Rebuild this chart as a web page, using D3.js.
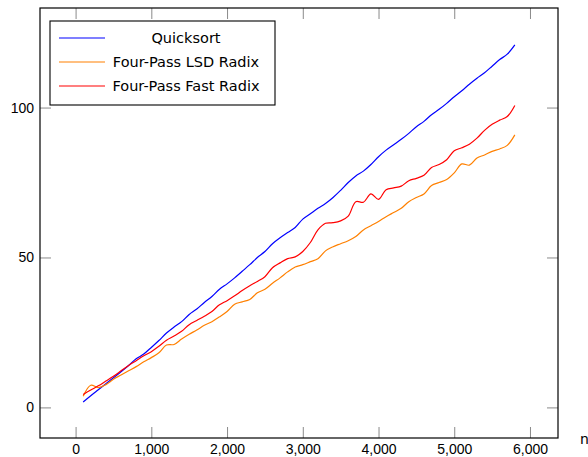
<!DOCTYPE html>
<html>
<head>
<meta charset="utf-8">
<script src="https://cdn.jsdelivr.net/npm/d3@7"></script>
<style>
  html, body { margin: 0; padding: 0; background: #fff; }
  svg { display: block; }
  text { font-family: "Liberation Sans", "DejaVu Sans", sans-serif; fill: #000; }
  .legend-label, .axis-label { font-family: "DejaVu Sans", sans-serif; }
</style>
</head>
<body>
<svg id="chart" width="588" height="457"></svg>
<script>
// Input sizes n
const sizes = d3.range(100, 5801, 100);

// Running times per input size
const quicksort = [
  1.8, 3.9, 5.9, 7.9, 9.9, 11.9, 14.0, 16.2, 17.8, 20.0,
  22.3, 24.8, 26.8, 28.6, 31.0, 32.8, 35.0, 37.0, 39.4, 41.2,
  43.2, 45.4, 47.6, 50.0, 52.0, 54.6, 56.6, 58.3, 60.0, 62.8,
  64.6, 66.4, 68.0, 70.0, 72.4, 75.0, 77.2, 78.8, 81.0, 83.6,
  85.8, 87.6, 89.4, 91.4, 93.6, 95.4, 97.6, 99.4, 101.4, 103.6,
  105.6, 107.8, 109.8, 111.6, 113.8, 116.0, 117.8, 120.9
];
const lsdRadix = [
  3.7, 7.4, 6.6, 7.6, 9.4, 10.8, 12.2, 13.6, 15.2, 16.6,
  18.2, 20.8, 21.0, 22.8, 24.4, 25.8, 27.4, 28.6, 30.2, 32.0,
  34.4, 35.2, 36.0, 38.2, 39.4, 41.4, 43.2, 45.2, 46.8, 47.6,
  48.6, 49.6, 52.2, 53.6, 54.6, 55.6, 57.0, 59.2, 60.6, 62.0,
  63.6, 65.0, 66.4, 68.6, 70.0, 71.2, 74.0, 75.0, 76.0, 78.2,
  81.2, 80.8, 83.2, 84.2, 85.4, 86.2, 87.4, 90.9
];
const fastRadix = [
  4.3, 5.8, 7.2, 8.8, 10.4, 12.2, 14.0, 15.6, 17.2, 18.6,
  20.4, 22.4, 23.8, 25.4, 27.6, 29.0, 30.4, 32.0, 34.2, 35.6,
  37.2, 39.0, 40.6, 42.0, 43.6, 46.6, 48.2, 49.6, 50.2, 52.0,
  55.0, 59.2, 61.4, 61.6, 62.2, 63.8, 68.6, 68.4, 71.2, 69.4,
  72.6, 73.2, 73.8, 75.6, 76.4, 77.4, 80.0, 81.0, 82.6, 85.6,
  86.6, 87.8, 89.8, 92.4, 94.4, 95.8, 97.0, 100.7
];

const seriesNames = ["Quicksort", "Four-Pass LSD Radix", "Four-Pass Fast Radix"];
const seriesColors = ["#0000ff", "#ff8000", "#ff0000"];
const seriesValues = [quicksort, lsdRadix, fastRadix];

const xTicks = [0, 1000, 2000, 3000, 4000, 5000, 6000];
const yTicks = [0, 50, 100];
const xLabel = "n";

// Plot frame
const box = { left: 40, right: 558, top: 8, bottom: 438 };

const x = d3.scaleLinear().domain([-470, 6370]).range([box.left, box.right]);
const y = d3.scaleLinear().domain([-10.2, 133.2]).range([box.bottom, box.top]);

const svg = d3.select("#chart");

// Data lines (drawn first so the frame sits above them)
const line = d3.line()
  .x((d, i) => x(sizes[i]))
  .y(d => y(d))
  .curve(d3.curveCatmullRom.alpha(0.5));

svg.append("g").selectAll("path")
  .data(seriesValues)
  .join("path")
  .attr("d", d => line(d))
  .attr("fill", "none")
  .attr("stroke", (d, i) => seriesColors[i])
  .attr("stroke-width", 1.2)
  .attr("stroke-linejoin", "round");

// Ticks on all four sides, pointing inward
const tickLen = 11;
const fmt = d3.format(",");
const tickColor = "#8a8a8a";

const axB = d3.axisBottom(x).tickValues(xTicks).tickFormat(fmt).tickSize(tickLen).tickPadding(3);
const gB = svg.append("g").attr("transform", `translate(0,${box.bottom})`).call(axB);
gB.select(".domain").remove();
gB.selectAll(".tick line").attr("y2", -tickLen).attr("stroke", tickColor);
gB.selectAll(".tick text").attr("y", 6).attr("dy", "0.71em").attr("font-size", 14).attr("font-family", null);

const gT = svg.append("g").attr("transform", `translate(0,${box.top})`)
  .call(d3.axisTop(x).tickValues(xTicks).tickFormat("").tickSize(-tickLen));
gT.select(".domain").remove();
gT.selectAll(".tick line").attr("stroke", tickColor);

const axL = d3.axisLeft(y).tickValues(yTicks).tickFormat(d3.format("d")).tickSize(tickLen);
const gL = svg.append("g").attr("transform", `translate(${box.left},0)`).call(axL);
gL.select(".domain").remove();
gL.selectAll(".tick line").attr("x2", tickLen).attr("stroke", tickColor);
gL.selectAll(".tick text").attr("x", -6).attr("font-size", 14).attr("font-family", null);

const gR = svg.append("g").attr("transform", `translate(${box.right},0)`)
  .call(d3.axisRight(y).tickValues(yTicks).tickFormat("").tickSize(-tickLen));
gR.select(".domain").remove();
gR.selectAll(".tick line").attr("stroke", tickColor);

// Frame
svg.append("rect")
  .attr("x", box.left).attr("y", box.top)
  .attr("width", box.right - box.left).attr("height", box.bottom - box.top)
  .attr("fill", "none").attr("stroke", "#000").attr("stroke-width", 1.2);

// Axis label
svg.append("text")
  .attr("class", "axis-label")
  .attr("x", 580).attr("y", 444)
  .attr("font-size", 14)
  .text(xLabel);

// Legend
const leg = svg.append("g");
leg.append("rect")
  .attr("x", 50).attr("y", 21).attr("width", 225).attr("height", 84)
  .attr("fill", "#fff").attr("stroke", "#000").attr("stroke-width", 1.1);

const rows = leg.selectAll("g.row")
  .data(seriesNames)
  .join("g")
  .attr("class", "row")
  .attr("transform", (d, i) => `translate(0,${38 + i * 24})`);

rows.append("line")
  .attr("x1", 59).attr("x2", 105).attr("y1", 0).attr("y2", 0)
  .attr("stroke", (d, i) => seriesColors[i]).attr("stroke-width", 1.1);

rows.append("text")
  .attr("class", "legend-label")
  .attr("x", 186).attr("y", 0).attr("dy", "0.36em")
  .attr("text-anchor", "middle")
  .attr("font-size", 14.5)
  .text(d => d);
</script>
</body>
</html>
